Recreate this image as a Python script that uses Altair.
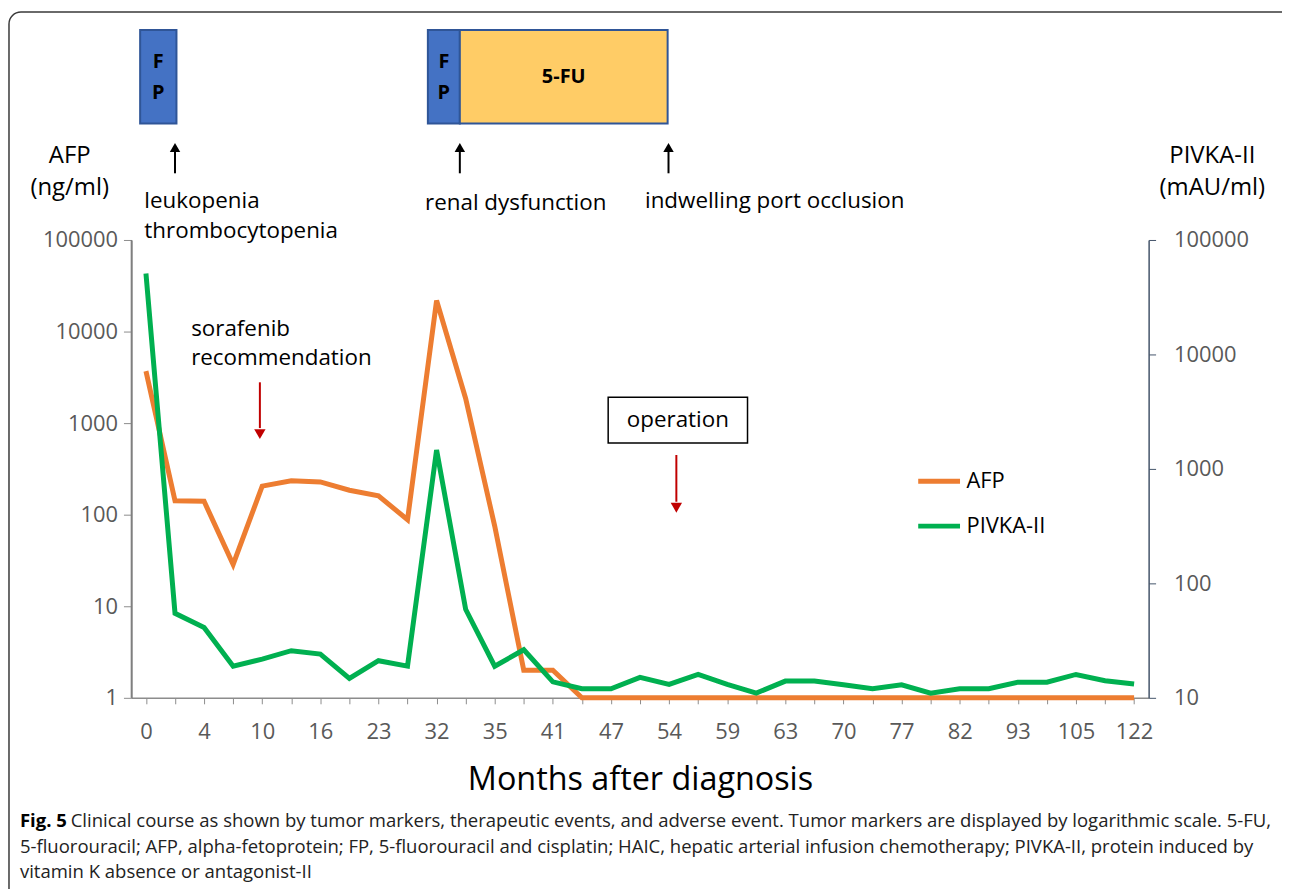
import json
import altair as alt
import pandas as pd

# ---------------- data ----------------
tick_labels = ["0", "4", "10", "16", "23", "32", "35", "41", "47", "54",
               "59", "63", "70", "77", "82", "93", "105", "122"]
afp = [3700, 142, 140, 28.6, 205, 235, 228, 185, 161, 88,
       21800, 1860, 75, 2, 2, 1, 1, 1, 1, 1,
       1, 1, 1, 1, 1, 1, 1, 1, 1, 1,
       1, 1, 1, 1, 1]
pivka = [50900, 54.8, 41.2, 18.9, 21.8, 25.8, 24.1, 14.8, 21.1, 18.9,
         1462, 59.4, 18.9, 26.3, 13.8, 12.0, 12.0, 15.1, 13.1, 16.0,
         13.1, 11.0, 14.0, 14.0, 13.0, 12.0, 13.0, 11.0, 12.0, 12.0,
         13.7, 13.7, 16.0, 14.1, 13.2]
series_names = ["AFP", "PIVKA-II"]
series_colors = ["#ED7D31", "#00B050"]

# treatments (in visit-index units)
treat_start = [-0.2, 9.7, 10.8]
treat_end = [1.05, 10.8, 17.95]
treat_label = ["F\nP", "F\nP", "5-FU"]
treat_fill = ["#4472C4", "#4472C4", "#FFCC66"]
treat_label_y = [-179, -179, -164]

# adverse events (black arrows) and other events (red arrows)
adverse_pos = [1.0, 10.8, 17.98]
red_pos = [3.92, 18.25]

caption_l1 = ("Clinical course as shown by tumor markers, therapeutic events, and adverse event. "
              "Tumor markers are displayed by logarithmic scale. 5-FU,")
caption_l2 = ("5-fluorouracil; AFP, alpha-fetoprotein; FP, 5-fluorouracil and cisplatin; HAIC, hepatic "
              "arterial infusion chemotherapy; PIVKA-II, protein induced by")
caption_l3 = "vitamin K absence or antagonist-II"

FONT = "Open Sans"
n = len(afp)
idx = list(range(n))
df = pd.DataFrame({
    "idx": idx * 2,
    "value": afp + pivka,
    "series": [series_names[0]] * n + [series_names[1]] * n,
})

label_expr = "datum.value % 2 === 0 ? " + json.dumps(tick_labels) + "[round(datum.value / 2)] : ''"
x_scale = alt.Scale(domain=[-0.5, n - 0.5], nice=False, zero=False)
x_axis = alt.Axis(values=idx, labelExpr=label_expr, title="Months after diagnosis",
                  tickSize=6, tickColor="#8c8c8c", domainColor="#8c8c8c", domainWidth=1.5,
                  labelPadding=18, labelFontSize=22, labelColor="#595959", labelFont=FONT,
                  labelFlush=False, labelOverlap=False, titleFontSize=32.5, titleFont=FONT,
                  titleFontWeight="normal", titleColor="black", titlePadding=21)

color_enc = alt.Color("series:N", scale=alt.Scale(domain=series_names, range=series_colors),
                      legend=alt.Legend(title=None, orient="none", legendX=788, legendY=219,
                                        symbolType="stroke", symbolSize=1764, symbolStrokeWidth=5,
                                        labelFontSize=22, labelFont=FONT, labelColor="black",
                                        rowPadding=10, labelOffset=4))

afp_line = alt.Chart(df).transform_filter(alt.datum.series == "AFP").mark_line(
    strokeWidth=5).encode(
    x=alt.X("idx:Q", scale=x_scale, axis=x_axis),
    y=alt.Y("value:Q", scale=alt.Scale(type="log", domain=[1, 100000]),
            axis=alt.Axis(orient="left", values=[1, 10, 100, 1000, 10000, 100000], format="d",
                          title=None, domain=True, tickSize=8, tickColor="#8c8c8c",
                          domainColor="#7f7f7f", domainWidth=1.5, labelFontSize=22,
                          labelColor="#595959", labelFont=FONT, labelPadding=6)),
    color=color_enc,
)

pivka_line = alt.Chart(df).transform_filter(alt.datum.series == "PIVKA-II").mark_line(
    strokeWidth=5).encode(
    x=alt.X("idx:Q", scale=x_scale, axis=None),
    y=alt.Y("value:Q", scale=alt.Scale(type="log", domain=[10, 100000]),
            axis=alt.Axis(orient="right", values=[10, 100, 1000, 10000, 100000], format="d",
                          title=None, tickSize=7, tickColor="#44546A", domainColor="#44546A",
                          domainWidth=1.5, labelFontSize=22, labelColor="#595959", labelFont=FONT,
                          labelPadding=18)),
    color=color_enc,
)

# ---------------- annotations ----------------
one = pd.DataFrame({"a": [0]})

left_domain = alt.Chart(one).mark_rule(color="#7f7f7f", strokeWidth=1.5).encode(
    x=alt.value(0), y=alt.value(0), y2=alt.value(460))

border = alt.Chart(one).mark_rect(fill=None, stroke="#3a3a3a", strokeWidth=1.5,
                                  cornerRadius=12).encode(
    x=alt.value(-123), x2=alt.value(1170), y=alt.value(-229), y2=alt.value(670))

treat_df = pd.DataFrame({"start": treat_start, "end": treat_end, "label": treat_label,
                         "fill": treat_fill, "ly": treat_label_y,
                         "mid": [(a + b) / 2 for a, b in zip(treat_start, treat_end)]})
treat_boxes = alt.Chart(treat_df).mark_rect(stroke="#2F5597", strokeWidth=2).encode(
    x=alt.X("start:Q", scale=x_scale, axis=None), x2="end:Q",
    y=alt.value(-211), y2=alt.value(-117),
    fill=alt.Fill("fill:N", scale=None))
treat_text = alt.Chart(treat_df).mark_text(font=FONT, fontWeight="bold", fontSize=20,
                                           lineBreak="\n", lineHeight=31, baseline="middle",
                                           color="black").encode(
    x=alt.X("mid:Q", scale=x_scale, axis=None),
    y=alt.Y("ly:Q", scale=None, axis=None), text="label:N")

adv_df = pd.DataFrame({"pos": adverse_pos})
adv_shaft = alt.Chart(adv_df).mark_rule(color="black", strokeWidth=2).encode(
    x=alt.X("pos:Q", scale=x_scale, axis=None), y=alt.value(-67), y2=alt.value(-90))
adv_head = alt.Chart(adv_df).mark_point(shape="triangle-up", filled=True, size=110,
                                        color="black", opacity=1).encode(
    x=alt.X("pos:Q", scale=x_scale, axis=None), y=alt.value(-93))

red_df = pd.DataFrame({"pos": red_pos, "top": [143, 216], "bot": [189, 263], "head": [195, 269]})
red_shaft = alt.Chart(red_df).mark_rule(color="#C00000", strokeWidth=2).encode(
    x=alt.X("pos:Q", scale=x_scale, axis=None),
    y=alt.Y("top:Q", scale=None, axis=None), y2="bot:Q")
red_head = alt.Chart(red_df).mark_point(shape="triangle-down", filled=True, size=130,
                                        color="#C00000", opacity=1).encode(
    x=alt.X("pos:Q", scale=x_scale, axis=None), y=alt.Y("head:Q", scale=None, axis=None))

op_box = alt.Chart(one).mark_rect(fill="white", stroke="black", strokeWidth=1.5).encode(
    x=alt.value(479), x2=alt.value(619), y=alt.value(158), y2=alt.value(204))

texts_left = pd.DataFrame({
    "t": ["leukopenia", "thrombocytopenia", "renal dysfunction", "indwelling port occlusion",
          "sorafenib", "recommendation"],
    "px": [13, 13, 295, 516, 60, 60],
    "py": [-39, -9, -37, -39, 89, 119],
})
t_left = alt.Chart(texts_left).mark_text(font=FONT, fontSize=22.5, align="left", baseline="middle",
                                         color="black").encode(
    x=alt.X("px:Q", scale=None, axis=None), y=alt.Y("py:Q", scale=None, axis=None), text="t:N")

texts_center = pd.DataFrame({
    "t": ["AFP", "(ng/ml)", "PIVKA-II", "(mAU/ml)", "operation"],
    "px": [-62, -62, 1086, 1086, 549],
    "py": [-84, -52, -84, -52, 181],
    "fs": [24, 24, 24, 24, 22.5],
})
t_center = alt.Chart(texts_center).mark_text(font=FONT, align="center",
                                             baseline="middle", color="black").encode(
    x=alt.X("px:Q", scale=None, axis=None), y=alt.Y("py:Q", scale=None, axis=None), text="t:N",
    size=alt.Size("fs:Q", scale=None, legend=None))

cap_bold = alt.Chart(one).mark_text(font=FONT, fontSize=18.6, fontWeight="bold", align="left",
                                    baseline="middle", color="black", text="Fig. 5").encode(
    x=alt.value(-112), y=alt.value(584))
cap_df = pd.DataFrame({"t": [caption_l1, caption_l2, caption_l3],
                       "px": [-61, -112, -112], "py": [584, 609.5, 635]})
cap_text = alt.Chart(cap_df).mark_text(font=FONT, fontSize=18.6, align="left", baseline="middle",
                                       color="#222222").encode(
    x=alt.X("px:Q", scale=None, axis=None), y=alt.Y("py:Q", scale=None, axis=None), text="t:N")

chart = alt.layer(
    left_domain, afp_line, pivka_line, border, treat_boxes, treat_text, adv_shaft, adv_head,
    red_shaft, red_head, op_box, t_left, t_center, cap_bold, cap_text,
).resolve_scale(y="independent").resolve_axis(x="independent", y="independent").properties(
    width=1022, height=460,
    autosize=alt.AutoSizeParams(type="none"),
    padding={"left": 124, "top": 231, "right": 134, "bottom": 190},
).configure_axis(grid=False).configure_view(stroke=None)

chart.save("out.html", embed_options={"renderer": "svg", "actions": False})
